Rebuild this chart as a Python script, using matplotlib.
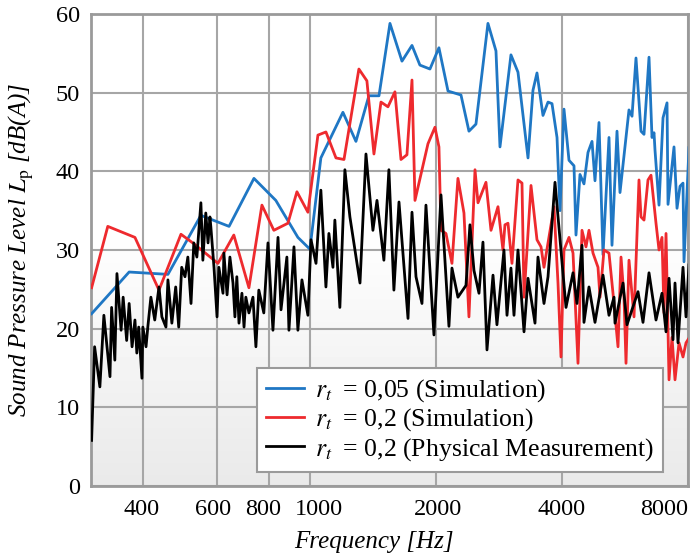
import numpy as np
import matplotlib
matplotlib.use("Agg")
import matplotlib.pyplot as plt
import matplotlib.transforms as mtransforms
from matplotlib.ticker import FixedLocator, NullLocator

plt.rcParams["font.family"] = ["Liberation Serif", "DejaVu Serif"]
plt.rcParams["mathtext.fontset"] = "stix"

# r_t = 0,05 (Simulation)
blue_f = [301, 370, 458, 549, 641, 735, 829, 936, 1000, 1062, 1199, 1288, 1383, 1462,
          1553, 1659, 1753, 1831, 1935, 2033, 2137, 2295, 2398, 2492, 2662, 2782, 2844,
          3021, 3140, 3318, 3410, 3486, 3603, 3704, 3786, 3892, 3956, 4044, 4157, 4273,
          4320, 4416, 4514, 4615, 4718, 4796, 4903, 5012, 5180, 5266, 5413, 5503, 5782,
          5879, 6009, 6177, 6280, 6455, 6562, 6635, 6671, 6820, 6972, 7127, 7166, 7406,
          7530, 7655, 7782, 7825, 8043]
blue_db = [21.9, 27.2, 26.9, 34.4, 33.0, 39.1, 36.3, 31.6, 30.1, 41.7, 47.5, 43.8, 49.6, 49.6,
           58.8, 54.0, 56.0, 53.5, 53.0, 55.7, 50.2, 49.7, 45.1, 46.0, 58.8, 55.3, 43.1,
           54.8, 52.6, 41.7, 50.3, 52.5, 47.1, 48.8, 48.6, 44.3, 35.0, 47.9, 41.4, 40.7,
           31.9, 39.6, 38.4, 42.4, 43.8, 38.8, 46.2, 29.4, 44.3, 30.6, 45.1, 37.3, 47.8,
           47.0, 54.4, 45.1, 44.7, 54.5, 44.3, 44.9, 42.7, 35.7, 46.8, 48.7, 35.8, 43.1,
           35.3, 38.1, 38.5, 28.5, 43.0]

# r_t = 0,2 (Simulation)
red_f = [301, 329, 382, 436, 492, 528, 603, 658, 715, 768, 820, 886, 931, 989, 1045, 1092,
         1154, 1206, 1309, 1368, 1422, 1478, 1536, 1596, 1650, 1705, 1753, 1782, 1914, 1989,
         2033, 2056, 2113, 2184, 2257, 2333, 2398, 2479, 2520, 2633, 2707, 2813, 2891, 2923,
         2972, 3038, 3140, 3210, 3246, 3373, 3486, 3564, 3623, 3828, 3913, 3978, 4044, 4157,
         4250, 4368, 4465, 4564, 4640, 4744, 4876, 4930, 5039, 5180, 5295, 5443, 5534, 5626,
         5688, 5782, 5944, 6109, 6177, 6280, 6419, 6526, 6708, 6820, 6933, 7010, 7088, 7206,
         7325, 7447, 7613, 7782, 7912, 8132]
red_db = [25.2, 33.0, 31.6, 24.9, 32.0, 30.8, 28.3, 31.9, 25.2, 35.7, 32.5, 33.4, 37.4, 34.8, 44.6, 45.0,
          41.7, 41.5, 53.0, 51.5, 42.2, 48.8, 48.2, 50.1, 41.5, 42.1, 51.6, 36.3, 43.5, 45.6,
          43.1, 32.5, 32.1, 28.3, 39.1, 34.7, 21.5, 40.2, 36.0, 38.6, 32.5, 35.5, 30.0, 33.2,
          33.4, 28.3, 38.9, 38.5, 24.0, 38.2, 31.3, 30.4, 27.8, 35.5, 25.8, 16.4, 30.0, 31.6,
          29.6, 15.6, 32.5, 30.4, 32.5, 29.6, 27.8, 24.0, 30.0, 29.6, 24.5, 17.7, 29.1, 24.0,
          15.6, 28.7, 21.5, 38.9, 34.2, 33.8, 38.9, 39.5, 33.4, 30.0, 31.6, 22.0, 32.1, 13.5,
          18.9, 13.5, 18.2, 16.4, 18.2, 19.2]

# r_t = 0,2 (Physical Measurement)
black_f = [301, 306, 315, 322, 333, 336, 342, 346, 354, 358, 365, 370, 376, 382, 386, 390,
           397, 399, 406, 410, 417, 426, 436, 443, 453, 458, 468, 478, 486, 494, 503, 511,
           520, 528, 537, 549, 555, 564, 571, 577, 580, 590, 600, 606, 620, 623, 634, 644,
           655, 662, 669, 677, 688, 696, 703, 715, 731, 743, 755, 776, 794, 816, 839, 853,
           881, 891, 916, 936, 957, 989, 1006, 1034, 1062, 1092, 1110, 1135, 1147, 1179,
           1212, 1246, 1317, 1361, 1414, 1446, 1502, 1544, 1587, 1632, 1715, 1753, 1792,
           1852, 1893, 1978, 2056, 2148, 2184, 2257, 2359, 2411, 2465, 2534, 2590, 2648,
           2737, 2797, 2907, 2956, 3021, 3072, 3140, 3246, 3318, 3448, 3505, 3623, 3704,
           3849, 3978, 4089, 4250, 4344, 4465, 4514, 4640, 4796, 5012, 5180, 5325, 5354,
           5595, 5719, 6076, 6245, 6455, 6708, 6933, 7088, 7206, 7366, 7447, 7571, 7782,
           7912, 8043]
black_db = [5.8, 17.7, 12.6, 21.7, 13.9, 22.7, 16.0, 27.0, 19.8, 24.0, 18.5, 23.2, 17.7, 21.1, 16.9, 20.2,
            13.7, 20.2, 17.7, 20.2, 24.0, 21.1, 25.3, 21.5, 20.2, 26.2, 20.7, 25.3, 20.2, 27.8, 26.6, 29.1,
            23.2, 30.9, 29.1, 36.0, 28.7, 34.7, 30.9, 34.2, 32.9, 27.8, 21.5, 27.8, 24.5, 29.6, 24.3, 29.1,
            25.8, 21.5, 26.6, 20.7, 24.5, 20.2, 24.0, 22.0, 24.0, 17.7, 24.9, 22.0, 30.9, 19.8, 31.6, 22.4,
            29.1, 19.8, 30.4, 19.8, 26.2, 21.7, 31.3, 28.3, 37.6, 25.3, 32.1, 27.8, 33.8, 22.7,
            40.2, 34.2, 25.8, 42.2, 32.5, 36.3, 28.7, 40.2, 24.9, 36.1, 21.3, 34.8, 26.6,
            23.2, 35.7, 19.2, 37.0, 20.3, 27.7, 24.0, 25.5, 33.2, 27.4, 24.5, 31.0, 17.3,
            26.8, 20.5, 30.0, 21.7, 27.7, 21.7, 30.0, 19.6, 26.4, 20.7, 29.1, 23.2, 26.6,
            38.6, 30.0, 22.7, 27.1, 23.2, 30.6, 20.8, 25.3, 20.8, 26.8, 21.7, 24.0, 20.7,
            25.8, 20.5, 24.7, 20.8, 27.1, 21.1, 24.5, 19.6, 26.4, 18.6, 25.8, 18.2, 27.8,
            21.5, 28.1]

x_ticks = [400, 600, 800, 1000, 2000, 4000, 8000]
y_ticks = [0, 10, 20, 30, 40, 50, 60]

fig = plt.figure(figsize=(6.91, 5.58), dpi=100)
ax = fig.add_axes([0.1317, 0.129, 0.864, 0.846])

# background: white in the upper half, fading to light grey towards the bottom
grad = np.concatenate([np.ones(45), np.linspace(1.0, 0.915, 55)])[:, None]
ax.imshow(grad, cmap="gray", vmin=0, vmax=1, aspect="auto", extent=(0, 1, 0, 1),
          transform=ax.transAxes, zorder=0, interpolation="bicubic")

ax.plot(blue_f, blue_db, color="#1f77c4", lw=2.0, label=r"$r_t\;$ = 0,05 (Simulation)", zorder=3)
ax.plot(red_f, red_db, color="#ee2a2e", lw=2.0, label=r"$r_t\;$ = 0,2 (Simulation)", zorder=3)
ax.plot(black_f, black_db, color="black", lw=2.0, label=r"$r_t\;$ = 0,2 (Physical Measurement)", zorder=4)

ax.set_xscale("log")
ax.set_xlim(300, 8000)
ax.set_ylim(0, 60)
ax.xaxis.set_major_locator(FixedLocator(x_ticks))
ax.xaxis.set_minor_locator(NullLocator())
ax.set_xticklabels([str(t) for t in x_ticks])
ax.set_yticks(y_ticks)
ax.set_yticklabels([str(t) for t in y_ticks])
ax.tick_params(length=0, labelsize=17.5)
ax.tick_params(axis="x", pad=9)
ax.tick_params(axis="y", pad=8)

# nudge crowded x labels apart the way the original does
shifts = [-2, -4, -6, 9, 2, 0, 0]
for lab, dx in zip(ax.get_xticklabels(), shifts):
    lab.set_transform(lab.get_transform() + mtransforms.ScaledTranslation(dx / 100, 0, fig.dpi_scale_trans))
ax.get_xticklabels()[-1].set_horizontalalignment("right")

ax.grid(True, color="#a6a6a6", lw=1.5, zorder=1)
ax.set_axisbelow(True)
for s in ax.spines.values():
    s.set_color("#9a9a9a")
    s.set_linewidth(2)

ax.set_xlabel("Frequency [Hz]", style="italic", fontsize=18, labelpad=7)
ax.xaxis.set_label_coords(0.474, -0.095)
ax.set_ylabel(r"Sound Pressure Level $L_\mathrm{p}$ [dB(A)]", style="italic", fontsize=18, labelpad=14)

leg = ax.legend(loc="lower right", bbox_to_anchor=(0.958, 0.03), borderaxespad=0,
                fontsize=18.5, handlelength=1.5, handletextpad=0.4, fancybox=False, framealpha=1,
                edgecolor="#9a9a9a", labelspacing=0.1, borderpad=0.35)
leg.get_frame().set_linewidth(1.5)

fig.savefig("out.png", dpi=100)
